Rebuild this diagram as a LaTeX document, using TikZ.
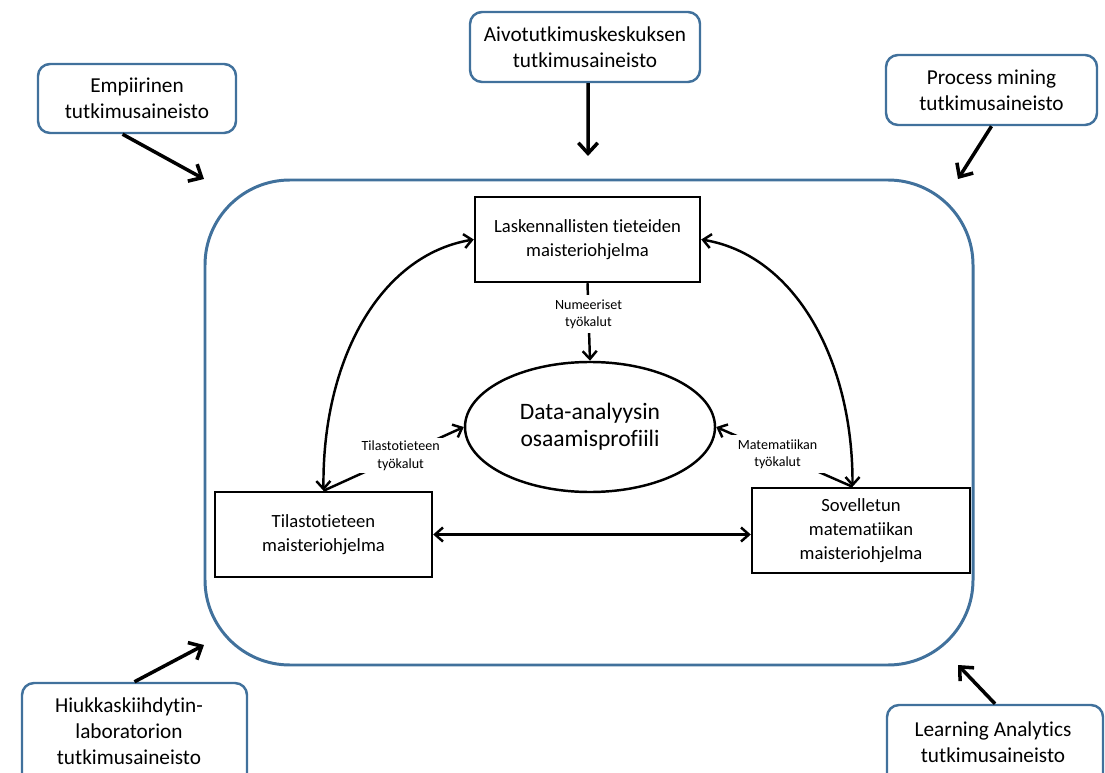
\documentclass[tikz,border=0pt]{standalone}
\usepackage{fontspec}
\setmainfont{Carlito}[Ligatures={NoCommon,NoContextual}]
\usetikzlibrary{arrows.meta,shapes.geometric}
\definecolor{frameblue}{RGB}{65,113,156}
\begin{document}
\begin{tikzpicture}[x=0.02cm,y=-0.02cm,
  srcbox/.style={draw=frameblue, line width=1.4pt, rounded corners=0.24cm, align=center,
    font=\fontsize{12.1}{14.9}\selectfont, inner sep=0pt},
  srctext/.style={align=center, font=\fontsize{12.1}{14.9}\selectfont, inner sep=0pt},
  progbox/.style={draw=black, line width=1.4pt, align=center,
    font=\fontsize{10.6}{13.6}\selectfont, inner sep=0pt, minimum height=85*0.02cm},
  smalllabel/.style={fill=white, align=center, font=\fontsize{8}{9.8}\selectfont, inner sep=0pt},
  bigarrow/.style={line width=2pt, -{Straight Barb[length=6pt,width=11pt]}},
  inarrow/.style={line width=1.4pt, -{Straight Barb[length=4.5pt,width=8pt]}},
  dblarrow/.style={line width=1.4pt, {Straight Barb[length=4.5pt,width=8pt]}-{Straight Barb[length=4.5pt,width=8pt]}}
]
\useasboundingbox (0,0) rectangle (1105,773);

% big frame
\node[draw=frameblue, line width=1.7pt, rounded corners=1.7cm, minimum width=768*0.02cm,
  minimum height=485*0.02cm, inner sep=0pt] (frame) at (589,422.5) {};

% source boxes
\node[srcbox, minimum width=198*0.02cm, minimum height=69*0.02cm] (emp) at (137,98.5) {Empiirinen\\tutkimusaineisto};
\node[srcbox, minimum width=230*0.02cm, minimum height=70*0.02cm] (aivo) at (585,47) {Aivotutkimuskeskuksen\\tutkimusaineisto};
\node[srcbox, minimum width=211*0.02cm, minimum height=70*0.02cm] (proc) at (991.5,90) {Process mining\\tutkimusaineisto};
\node[srcbox, minimum width=225*0.02cm, minimum height=117*0.02cm] (hiukbox) at (134.5,741.5) {};
\node[srctext] (hiuk) at (129,731) {Hiukkaskiihdytin-\\laboratorion\\tutkimusaineisto};
\node[srcbox, minimum width=216*0.02cm, minimum height=95*0.02cm] (learnbox) at (995,752.5) {};
\node[srctext] (learn) at (993,742) {Learning Analytics\\tutkimusaineisto};

\coordinate (t1) at (204,179);
\coordinate (t2) at (588,156);
\coordinate (t3) at (958,179);
\coordinate (t4) at (204,645);
\coordinate (t5) at (958,665);
\draw[bigarrow] (emp.248) -- (t1);
\draw[bigarrow] (aivo.275) -- (t2);
\draw[bigarrow] (proc.south) -- (t3);
\draw[bigarrow] (hiukbox.north) -- (t4);
\draw[bigarrow] (learnbox.north) -- (t5);

% programme boxes
\node[progbox, minimum width=225*0.02cm] (lask) at (587.5,239.5) {Laskennallisten tieteiden\\maisteriohjelma};
\node[progbox, minimum width=217*0.02cm] (tila) at (323.5,534.5) {Tilastotieteen\\maisteriohjelma};
\node[progbox, minimum width=218*0.02cm] (sov) at (861,530.5) {Sovelletun\\matematiikan\\maisteriohjelma};

% ellipse
\node[draw, ellipse, line width=1.4pt, minimum width=250*0.02cm, minimum height=130*0.02cm,
  inner sep=0pt, align=center, font=\fontsize{13.4}{15.3}\selectfont] (ell) at (590,427) {Data-analyysin\\osaamisprofiili};

% connectors
\draw[inarrow] (lask.south) -- node[smalllabel, pos=0.4, minimum width=70*0.02cm, minimum height=38*0.02cm] {Numeeriset\\työkalut} (ell.north);
\draw[inarrow] (tila.north) -- node[smalllabel, pos=0.55, minimum width=110*0.02cm, minimum height=35*0.02cm] {Tilastotieteen\\työkalut} (ell.west);
\draw[inarrow] (sov.101) -- node[smalllabel, pos=0.55, minimum width=98*0.02cm, minimum height=38*0.02cm] {Matematiikan\\työkalut} (ell.east);

\draw[dblarrow] (lask.west) .. controls (380,255) and (322,360) .. (tila.north);
\draw[dblarrow] (lask.east) .. controls (795,255) and (853,360) .. (sov.101);
\draw[dblarrow] (tila.east) -- (tila.east -| sov.west);
\end{tikzpicture}
\end{document}
